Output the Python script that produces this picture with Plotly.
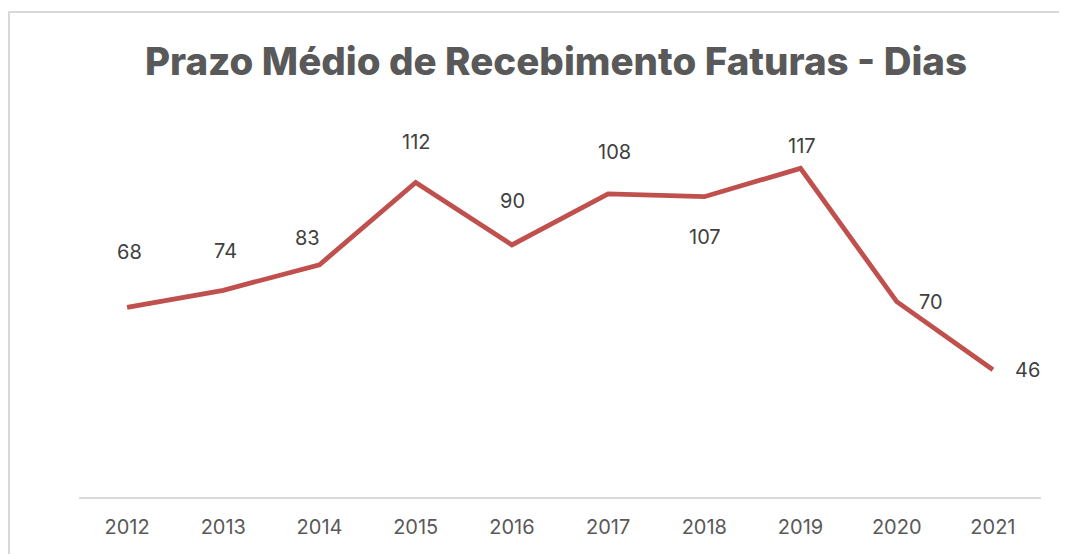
import plotly.graph_objects as go

years = ["2012", "2013", "2014", "2015", "2016", "2017", "2018", "2019", "2020", "2021"]
values = [68, 74, 83, 112, 90, 108, 107, 117, 70, 46]
# label pixel offsets (dx, dy) relative to each point
label_dx = [2, 2, -12, 0, 1, 6, 1, 1, 34, 35]
label_dy = [55, 39, 27, 41, 44, 42, -40, 22, 0, 0]

title_text = "Prazo Médio de Recebimento Faturas - Dias"

W, H = 1067, 554
OFF = 8  # page body margin offset
ml, mr, mt, mb = 79 - OFF, 26 + OFF, 100 - OFF, 57 + OFF

fig = go.Figure()
fig.add_trace(go.Scatter(
    x=years, y=values, mode="lines",
    line=dict(color="#C0504D", width=4.8),
    hoverinfo="x+y", showlegend=False,
))

for i, (v, dx, dy) in enumerate(zip(values, label_dx, label_dy)):
    fig.add_annotation(
        x=i, y=v, xref="x", yref="y", text=str(v), showarrow=False,
        xshift=dx, yshift=dy,
        font=dict(family="Inter, sans-serif", size=20, color="#404040"),
    )

pw, ph = W - ml - mr, H - mt - mb
def px_to_paper_x(px):
    return (px - OFF - ml) / pw
def px_to_paper_y(py):
    return (H - mb - (py - OFF)) / ph

fig.add_shape(type="rect", xref="paper", yref="paper",
              x0=px_to_paper_x(9), x1=px_to_paper_x(W + 20),
              y0=px_to_paper_y(H + 20), y1=px_to_paper_y(12),
              line=dict(color="#D9D9D9", width=2), fillcolor="rgba(0,0,0,0)",
              layer="below")

fig.update_layout(
    width=W, height=H,
    margin=dict(l=ml, r=mr, t=mt, b=mb),
    paper_bgcolor="white", plot_bgcolor="white",
    title=dict(text=title_text, x=(556 - OFF) / W, xanchor="center",
               y=1 - (62 - OFF) / H, yanchor="middle",
               font=dict(family="Inter, sans-serif", size=38.5, color="#595959", weight=800)),
    xaxis=dict(type="category", range=[-0.5, 9.5], showgrid=False,
               showline=True, linecolor="#D9D9D9", linewidth=2,
               ticks="", tickfont=dict(family="Inter, sans-serif", size=20, color="#595959"),
               ticklabelstandoff=11, zeroline=False),
    yaxis=dict(range=[1.1, 141.1], showticklabels=False, showline=False, ticks="",
               showgrid=False, zeroline=False),
)

fig.write_html("out.html")
